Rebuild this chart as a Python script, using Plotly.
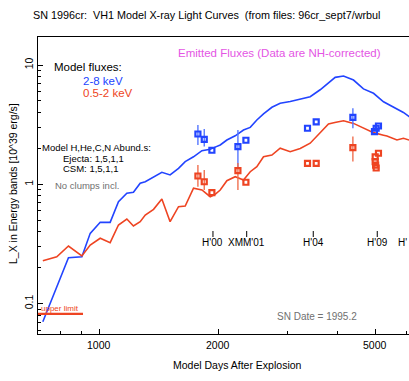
import plotly.graph_objects as go
import math

# ---------------- data ----------------
model_days = [720, 781, 836, 904, 949, 1006, 1066, 1119, 1175, 1221, 1270, 1308, 1373, 1441,
              1512, 1588, 1651, 1733, 1820, 1910, 1966, 2025, 2105, 2210, 2319, 2412, 2507,
              2606, 2737, 2872, 3045, 3228, 3421, 3626, 3806, 3958, 4155, 4404, 4667, 4949,
              5246, 5351, 5673, 5891, 6093, 6400]
hard_flux = [0.0705, 0.139, 0.2426, 0.247, 0.388, 0.480, 0.480, 0.715, 0.841, 0.857, 1.02, 1.05,
             1.145, 1.26, 1.197, 1.362, 1.55, 1.70, 1.913, 1.965, 2.05, 2.135, 2.35, 2.55,
             2.85, 3.00, 3.46, 3.90, 4.42, 4.78, 4.95, 5.20, 5.42, 6.2, 7.03, 7.88, 8.09,
             7.48, 6.3, 5.79, 4.92, 4.75, 4.34, 4.0, 3.69, 3.3]
soft_days = [720, 781, 836, 904, 949, 1006, 1066, 1119, 1175, 1221, 1270, 1308, 1373, 1441,
             1512, 1588, 1651, 1733, 1820, 1910, 1966, 2025, 2105, 2210, 2319, 2412, 2507,
             2606, 2737, 2872, 3045, 3228, 3421, 3626, 3806, 3950, 4155, 4404, 4667, 4949,
             5246, 5351, 5673, 5891, 6093, 6400]
soft_flux = [0.229, 0.247, 0.304, 0.251, 0.310, 0.353, 0.324, 0.456, 0.512, 0.447, 0.486, 0.553,
             0.617, 0.753, 0.486, 0.649, 0.658, 0.926, 0.896, 0.787, 0.824, 0.896, 1.072,
             1.158, 1.086, 1.275, 1.404, 1.70, 1.76, 2.01, 1.876, 2.00, 2.21, 2.68, 3.20,
             3.30, 3.41, 3.24, 2.95, 2.71, 2.58, 2.54, 2.35, 2.43, 2.35, 2.25]

obs_hard_days = [1778, 1845, 1929, 2245, 2352, 3368, 3543, 4388, 4977, 5026, 5094]
obs_hard_flux = [2.64, 2.38, 1.93, 2.07, 2.34, 2.95, 3.33, 3.64, 2.76, 2.95, 3.08]
obs_hard_hi = [3.14, 2.91, 1.93, 2.85, 2.34, 2.95, 3.33, 4.34, 2.76, 2.95, 3.08]
obs_hard_lo = [2.135, 2.07, 1.93, 1.37, 2.34, 2.95, 3.33, 2.95, 2.76, 2.95, 3.08]

obs_soft_days = [1778, 1845, 1929, 2245, 2352, 3368, 3543, 4388, 4997, 5094, 4997, 5010, 5026]
obs_soft_flux = [1.174, 1.05, 0.85, 1.30, 1.04, 1.50, 1.50, 2.03, 1.70, 1.82, 1.55, 1.45, 1.37]
obs_soft_hi = [1.45, 1.318, 0.85, 1.51, 1.04, 1.50, 1.50, 2.51, 1.70, 1.82, 1.55, 1.45, 1.37]
obs_soft_lo = [0.955, 0.896, 0.85, 0.896, 1.04, 1.50, 1.50, 1.55, 1.70, 1.82, 1.55, 1.45, 1.37]

upper_limit_days = [700, 910]
upper_limit_flux = [0.082, 0.082]

epoch_days = [1941, 2363, 3483, 5058]
epoch_labels = ["H'00", "XMM'01", "H'04", "H'09"]
last_epoch_label = "H'"          # label of the last epoch, cut at the window edge

x_ticks = [1000, 2000, 5000]
x_tick_labels = ["1000", "2000", "5000"]
x_minor = [800, 900, 3000, 4000, 6000]
y_ticks = [0.1, 1, 10]
y_tick_labels = ["0.1", "1", "10"]
y_minor = [0.06, 0.07, 0.08, 0.09, 0.2, 0.3, 0.4, 0.5, 0.6, 0.7, 0.8, 0.9,
           2, 3, 4, 5, 6, 7, 8, 9]

# ---------------- style ----------------
BLUE = "#2244ff"
RED = "#ee4422"
MAG = "#e455e4"
GRAY = "#707070"
FONT = "Liberation Sans, Arial, sans-serif"

W, H = 409, 381
L, R, T, B = 38, 0, 37, 47
pw, ph = W - L - R, H - T - B
X0 = math.log10(700)
X1 = X0 + pw / 395.0
Y1 = 1.2347
Y0 = Y1 - ph / 119.3


def px(xp):
    return (xp - L) / pw


def py(yp):
    return (H - B - yp) / ph


def xpaper(days):
    return (math.log10(days) - X0) / (X1 - X0)


fig = go.Figure()
fig.add_trace(go.Scatter(x=model_days, y=hard_flux, mode="lines",
                         line=dict(color=BLUE, width=1.6), hoverinfo="skip"))
fig.add_trace(go.Scatter(x=soft_days, y=soft_flux, mode="lines",
                         line=dict(color=RED, width=1.6), hoverinfo="skip"))
fig.add_trace(go.Scatter(x=upper_limit_days, y=upper_limit_flux, mode="lines",
                         line=dict(color=RED, width=2.2), hoverinfo="skip"))


def errs(vals, hi, lo):
    return [h - v for v, h in zip(vals, hi)], [v - l for v, l in zip(vals, lo)]


ep, em = errs(obs_hard_flux, obs_hard_hi, obs_hard_lo)
fig.add_trace(go.Scatter(x=obs_hard_days, y=obs_hard_flux, mode="markers",
                         marker=dict(symbol="square-open", size=5, color=BLUE,
                                     line=dict(width=2.2, color=BLUE)),
                         error_y=dict(type="data", array=ep, arrayminus=em, width=0,
                                      thickness=1.4, color="#5577ff")))
ep, em = errs(obs_soft_flux, obs_soft_hi, obs_soft_lo)
fig.add_trace(go.Scatter(x=obs_soft_days, y=obs_soft_flux, mode="markers",
                         marker=dict(symbol="square-open", size=5, color=RED,
                                     line=dict(width=2.2, color=RED)),
                         error_y=dict(type="data", array=ep, arrayminus=em, width=0,
                                      thickness=1.4, color="#f07050")))

ann = []


def text(t, x, y, size=11, color="black", xanchor="left", **kw):
    ann.append(dict(text=t, x=x, y=y, xref="paper", yref="paper", showarrow=False,
                    xanchor=xanchor, yanchor="middle",
                    font=dict(family=FONT, size=size, color=color), **kw))


text("SN 1996cr:  VH1 Model X-ray Light Curves  (from files: 96cr_sept7/wrbul",
     px(31), py(15), size=10.8)
text("Emitted Fluxes (Data are NH-corrected)", px(279), py(53), size=11.5, color=MAG,
     xanchor="center")
text("Model fluxes:", px(52), py(67), size=11.5)
text("2-8 keV", px(81), py(80.5), size=11.5, color=BLUE)
text("0.5-2 keV", px(81), py(92.5), size=11.5, color=RED)
text("Model H,He,C,N Abund.s:", px(40), py(147.5), size=9.5)
text("Ejecta: 1,5,1,1", px(61), py(158.5), size=9.5)
text("CSM: 1,5,1,1", px(61), py(168.5), size=9.5)
text("No clumps incl.", px(53), py(185), size=9.5, color=GRAY)
text("upper limit", px(39), py(308), size=8, color=RED)
text("SN Date = 1995.2", px(275), py(316), size=10, color=GRAY)
text("Model Days After Explosion", px(237), py(365), size=10.5, xanchor="center")
text("L_X in Energy bands [10^39 erg/s]", px(13), py(184), size=10.5,
     xanchor="center", textangle=-90)
for v, lab in zip(x_ticks, x_tick_labels):
    text(lab, xpaper(v), py(345), size=10.5, xanchor="center")

shapes = []
for d, lab in zip(epoch_days, epoch_labels):
    text(lab, xpaper(d), py(243), size=10, xanchor="center")
    shapes.append(dict(type="line", xref="x", yref="paper", x0=d, x1=d,
                       y0=py(237), y1=py(231), line=dict(color="black", width=1)))
text(last_epoch_label, px(396), py(243), size=10)

fig.update_layout(
    width=W, height=H, margin=dict(l=L, r=R, t=T, b=B, autoexpand=False),
    paper_bgcolor="white", plot_bgcolor="white", showlegend=False,
    font=dict(family=FONT, size=10.5, color="black"),
    annotations=ann, shapes=shapes,
)
fig.update_xaxes(type="log", range=[X0, X1], automargin=False,
                 showgrid=False, zeroline=False, showline=True, linecolor="black",
                 linewidth=1, mirror=True, ticks="inside", ticklen=5, tickcolor="black",
                 tickmode="array", tickvals=x_ticks, showticklabels=False,
                 minor=dict(tickvals=x_minor, ticks="inside", ticklen=3, tickcolor="black"))
fig.update_yaxes(type="log", range=[Y0, Y1], automargin=False,
                 showgrid=False, zeroline=False, showline=True, linecolor="black",
                 linewidth=1, mirror=False, ticks="inside", ticklen=5, tickcolor="black",
                 tickmode="array", tickvals=y_ticks, ticktext=y_tick_labels,
                 tickangle=-90, tickfont=dict(family=FONT, size=10.5),
                 minor=dict(tickvals=y_minor, ticks="inside", ticklen=3, tickcolor="black"))

fig.write_html("out.html", config={"displayModeBar": False},
               post_script="document.body.style.margin='0';document.body.style.padding='0';"
                           "document.documentElement.style.overflow='hidden';")
